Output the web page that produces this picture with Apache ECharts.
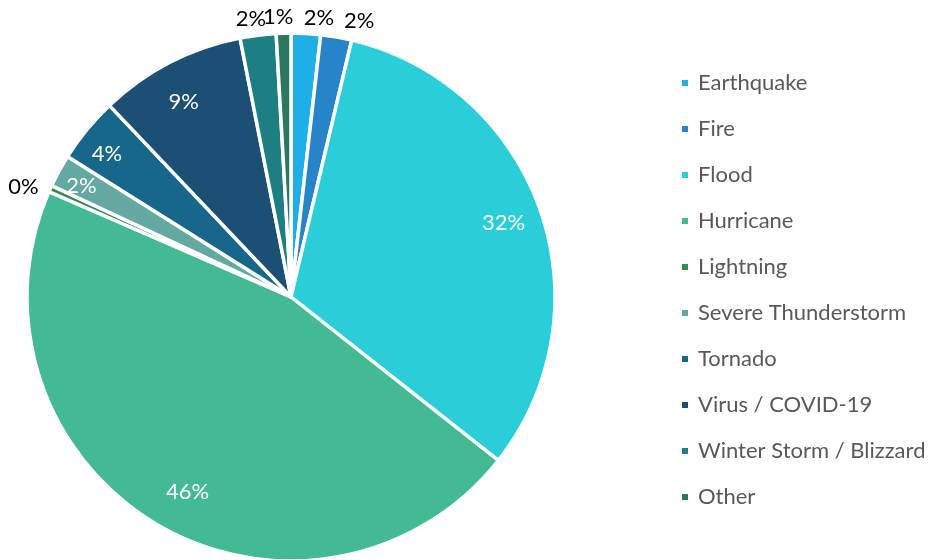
<!DOCTYPE html>
<html>
<head>
<meta charset="utf-8">
<script src="https://cdn.jsdelivr.net/npm/echarts@6/dist/echarts.min.js"></script>
<style>
  html, body { margin: 0; padding: 0; background: #ffffff; }
  #chart { width: 930px; height: 560px; }
</style>
</head>
<body>
<div id="chart"></div>
<script>
// Share of events by disaster type (percent)
const categories = [
  'Earthquake', 'Fire', 'Flood', 'Hurricane', 'Lightning',
  'Severe Thunderstorm', 'Tornado', 'Virus / COVID-19',
  'Winter Storm / Blizzard', 'Other'
];
const values = [1.8, 1.9, 32, 46, 0.4, 2, 4, 9, 2.2, 0.9];
const colors = [
  '#1FAEE5', '#2784C8', '#29CED9', '#43B994', '#3B8954',
  '#63A8A1', '#17678B', '#1B4F74', '#1D7F83', '#2B775F'
];
// Slices whose percentage sits outside the pie
const outsideLabels = ['Earthquake', 'Fire', 'Lightning', 'Winter Storm / Blizzard', 'Other'];
// Outside labels that are centred over their slice
const centredLabels = ['Winter Storm / Blizzard', 'Other'];
// Small nudges for crowded labels [dx, dy]
const labelNudge = {
  'Earthquake': [-8, 0],
  'Lightning': [8, 5],
  'Severe Thunderstorm': [-12, -4],
  'Tornado': [-10, 0],
  'Virus / COVID-19': [-4, 5],
  'Hurricane': [12, 2]
};

const FONT = 'Lato, "Noto Sans", sans-serif';
const CENTER = [291, 297];
const R = 264;

function layoutFor(params) {
  const name = categories[params.dataIndex];
  const out = {};
  if (centredLabels.includes(name)) out.align = 'center';
  if (labelNudge[name]) {
    out.dx = labelNudge[name][0];
    out.dy = labelNudge[name][1];
  }
  return out;
}

const chart = echarts.init(document.getElementById('chart'), null, { renderer: 'canvas' });

const pieData = categories.map((name, i) => ({
  name,
  value: values[i],
  itemStyle: { color: colors[i] },
  label: { show: outsideLabels.includes(name) }
}));

const ringData = categories.map((name, i) => ({
  name,
  value: values[i],
  label: { show: !outsideLabels.includes(name) }
}));

chart.setOption({
  animation: false,
  backgroundColor: '#ffffff',
  legend: {
    orient: 'vertical',
    left: 675,
    top: 67,
    icon: 'rect',
    itemWidth: 8,
    itemHeight: 8,
    itemGap: 24,
    data: categories,
    selectedMode: false,
    textStyle: {
      fontFamily: FONT,
      fontSize: 22,
      lineHeight: 20,
      color: '#595959',
      padding: [0, 0, 0, 4]
    }
  },
  series: [
    {
      type: 'pie',
      name: 'Disasters',
      center: CENTER,
      radius: [0, R],
      startAngle: 90,
      clockwise: true,
      avoidLabelOverlap: false,
      percentPrecision: 0,
      silent: true,
      itemStyle: { borderColor: '#ffffff', borderWidth: 3.5 },
      label: {
        position: 'outside',
        formatter: '{d}%',
        fontFamily: FONT,
        fontSize: 22,
        color: '#000000'
      },
      labelLine: { show: false, length: 16, length2: 0 },
      labelLayout: layoutFor,
      emphasis: { disabled: true },
      data: pieData
    },
    {
      // Transparent ring that only carries the in-slice percentages
      type: 'pie',
      name: 'Labels',
      center: CENTER,
      radius: [180, R],
      startAngle: 90,
      clockwise: true,
      avoidLabelOverlap: false,
      percentPrecision: 0,
      silent: true,
      itemStyle: { color: 'rgba(0,0,0,0)', borderWidth: 0 },
      label: {
        position: 'inside',
        formatter: '{d}%',
        fontFamily: FONT,
        fontSize: 22,
        color: '#ffffff'
      },
      labelLine: { show: false },
      labelLayout: layoutFor,
      emphasis: { disabled: true },
      data: ringData
    }
  ]
});
</script>
</body>
</html>
